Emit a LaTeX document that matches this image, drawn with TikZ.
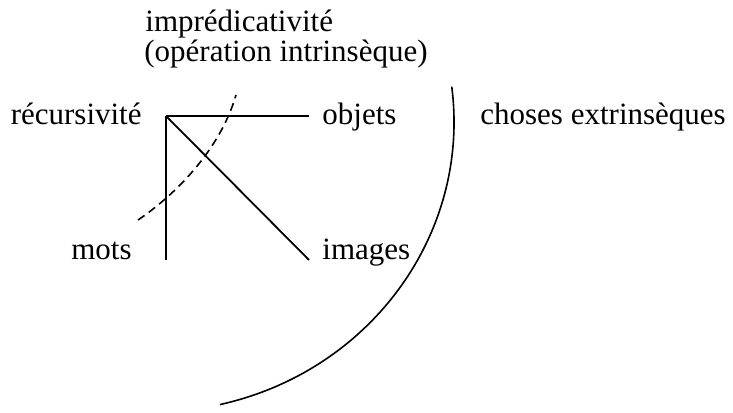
\documentclass[tikz,border=0pt]{standalone}
\usepackage{fontspec}
\setmainfont{Liberation Serif}
\usetikzlibrary{calc}

\begin{document}
\begin{tikzpicture}[x=0.5pt,y=0.5pt,
  lbl/.style={inner sep=0pt, font=\fontsize{15.5}{18}\selectfont},
  edge/.style={line width=0.9pt},
  bound/.style={line width=0.8pt},
  cut/.style={line width=0.8pt, dash pattern=on 4pt off 2.6pt}]
\useasboundingbox (0,0) rectangle (733,412);
% labels
\node[lbl, anchor=base west] (impred) at (145,380) {imprédicativité};
\node[lbl, anchor=base west] (intrin) at (144,350) {(opération intrinsèque)};
\node[lbl, anchor=base east] (rec) at (142,287) {récursivité};
\node[lbl, anchor=base west] (obj) at (322,287) {objets};
\node[lbl, anchor=base west] (ext) at (480,287) {choses extrinsèques};
\node[lbl, anchor=base east] (mots) at (132,152) {mots};
\node[lbl, anchor=base west] (img) at (322,152) {images};
% branches
\coordinate (hub) at (166,296);
\coordinate (objend) at (309,296);
\coordinate (imgend) at (309,152);
\coordinate (motsend) at (166,152);
\draw[edge] (hub) -- (objend);
\draw[edge] (hub) -- (imgend);
\draw[edge] (hub) -- (motsend);
% dashed cut
\coordinate (cutA) at (138,192);
\coordinate (cutB) at (236,317);
\draw[cut] (cutA) .. controls (175,217) and (220,262) .. (cutB);
% outer boundary
\coordinate (ctr) at (152,290);
\draw[bound] ([shift={(7:302 and 290)}]ctr) arc[start angle=7, end angle=-77, x radius=302, y radius=290];
\end{tikzpicture}
\end{document}
